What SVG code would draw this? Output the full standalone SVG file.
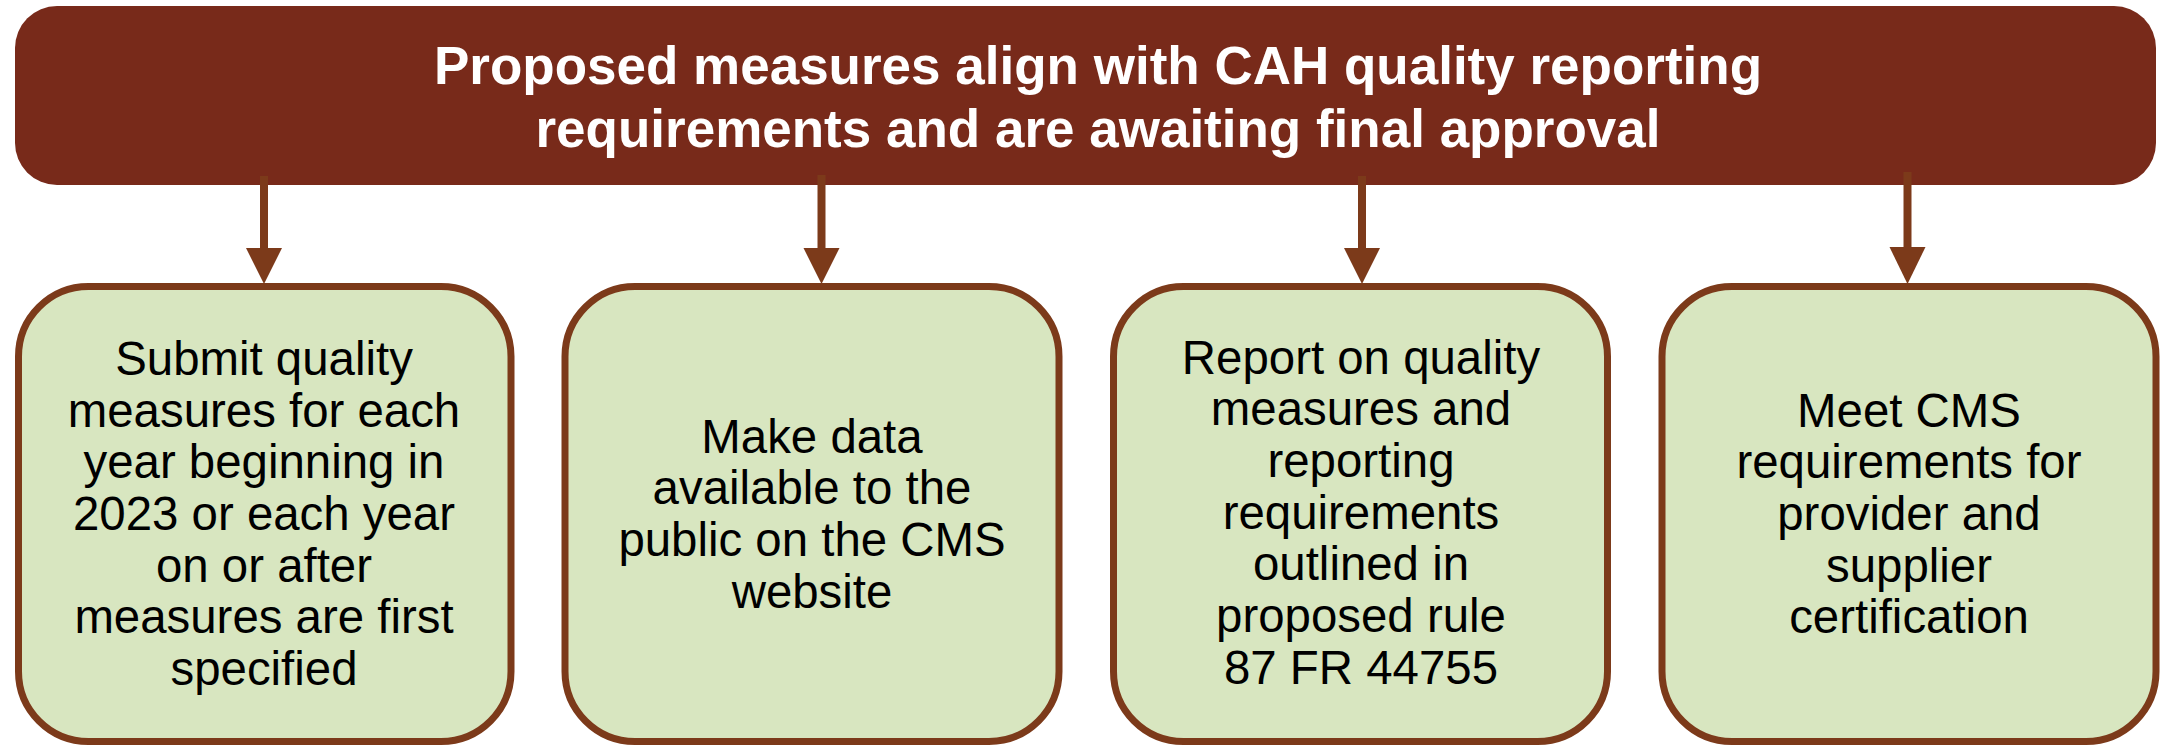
<svg xmlns="http://www.w3.org/2000/svg" width="2161" height="745" viewBox="0 0 2161 745">
<defs>
<style>
.hdr{fill:#782A1A;}
.box{fill:#D8E6C0;stroke:#7C3A1A;stroke-width:7;}
.ht{font-family:"Liberation Sans",Arial,sans-serif;font-weight:bold;font-size:53px;fill:#FFFFFF;text-anchor:middle;}
.bt{font-family:"Liberation Sans",Arial,sans-serif;font-size:47.4px;fill:#000000;text-anchor:middle;}
.ln{stroke:#7C3A1A;stroke-width:8;fill:none;}
.ah{fill:#7C3A1A;}
</style>
</defs>
<rect width="2161" height="745" fill="#FFFFFF"/>
<g id="header">
<rect class="hdr" x="15" y="6" width="2141" height="179" rx="42" ry="42"/>
<text class="ht" x="1098" y="83.5">Proposed measures align with CAH quality reporting</text>
<text class="ht" x="1098" y="147">requirements and are awaiting final approval</text>
</g>
<g id="connectors">
<line class="ln" x1="264" y1="176" x2="264" y2="250"/>
<polygon class="ah" points="246,248 282,248 264,284"/>
<line class="ln" x1="821.5" y1="175" x2="821.5" y2="250"/>
<polygon class="ah" points="803.5,248 839.5,248 821.5,284"/>
<line class="ln" x1="1362" y1="176" x2="1362" y2="250"/>
<polygon class="ah" points="1344,248 1380,248 1362,284"/>
<line class="ln" x1="1907.5" y1="172" x2="1907.5" y2="250"/>
<polygon class="ah" points="1889.5,247 1925.5,247 1907.5,284"/>
</g>
<g id="node1">
<rect class="box" x="18.5" y="286.5" width="492.5" height="455" rx="70" ry="70"/>
<text class="bt" x="264" y="375">Submit quality</text>
<text class="bt" x="264" y="426.7">measures for each</text>
<text class="bt" x="264" y="478.3">year beginning in</text>
<text class="bt" x="264" y="530">2023 or each year</text>
<text class="bt" x="264" y="581.7">on or after</text>
<text class="bt" x="264" y="633.3">measures are first</text>
<text class="bt" x="264" y="685">specified</text>
</g>
<g id="node2">
<rect class="box" x="565" y="286.5" width="494" height="455" rx="70" ry="70"/>
<text class="bt" x="812" y="452.5">Make data</text>
<text class="bt" x="812" y="504.2">available to the</text>
<text class="bt" x="812" y="555.8">public on the CMS</text>
<text class="bt" x="812" y="607.5">website</text>
</g>
<g id="node3">
<rect class="box" x="1113.5" y="286.5" width="494" height="455" rx="70" ry="70"/>
<text class="bt" x="1361" y="373.5">Report on quality</text>
<text class="bt" x="1361" y="425.2">measures and</text>
<text class="bt" x="1361" y="476.8">reporting</text>
<text class="bt" x="1361" y="528.5">requirements</text>
<text class="bt" x="1361" y="580.2">outlined in</text>
<text class="bt" x="1361" y="631.8">proposed rule</text>
<text class="bt" x="1361" y="683.5">87 FR 44755</text>
</g>
<g id="node4">
<rect class="box" x="1662" y="286.5" width="494" height="455" rx="70" ry="70"/>
<text class="bt" x="1909" y="426.7">Meet CMS</text>
<text class="bt" x="1909" y="478.3">requirements for</text>
<text class="bt" x="1909" y="530">provider and</text>
<text class="bt" x="1909" y="581.7">supplier</text>
<text class="bt" x="1909" y="633.3">certification</text>
</g>
</svg>
